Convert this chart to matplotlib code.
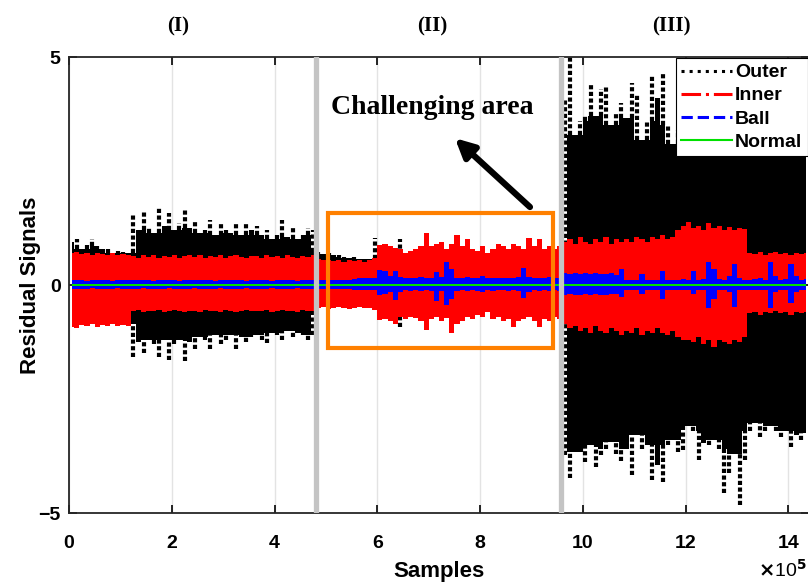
import numpy as np
import matplotlib
matplotlib.use("Agg")
import matplotlib.pyplot as plt
from matplotlib.lines import Line2D
from matplotlib.patches import Rectangle

# ---------------- data (envelopes, units: 1e5 samples) ----------------
# window centres every 0.1e5 samples: 0.05 ... 14.35
sample_centres = np.arange(0.05, 14.4, 0.1)

outer_hi = [
    0.95, 1.0, 0.8, 0.88, 1.0, 0.85, 0.78, 0.8, 0.7, 0.75, 0.72, 0.7,
    1.58, 1.2, 1.64, 1.25, 1.15, 1.69, 1.3, 1.58, 1.2, 1.35, 1.64, 1.25,
    1.38, 1.15, 1.2, 1.43, 1.1, 1.36, 1.2, 1.15, 1.33, 1.1, 1.38, 1.2,
    1.29, 1.1, 1.2, 1.0, 1.1, 1.43, 1.05, 1.3, 1.0, 1.1, 1.25, 1.2,
    0.72, 0.68, 0.7, 0.65, 0.66, 0.62, 0.6, 0.62, 0.58, 0.56, 0.58, 1.03,
    0.6, 0.5, 0.55, 0.5, 1.0, 0.5, 0.55, 0.5, 0.6, 0.5, 0.5, 0.55,
    0.5, 0.55, 0.5, 0.6, 0.5, 0.55, 0.5, 0.5, 0.55, 0.5, 0.6, 0.5,
    0.5, 0.55, 0.5, 0.5, 0.6, 0.5, 0.55, 0.5, 0.5, 0.55, 0.5, 0.6,
    4.06, 5.0, 3.3, 3.6, 3.7, 4.4, 3.7, 4.3, 4.35, 3.5, 3.77, 4.0,
    3.66, 4.43, 4.17, 3.18, 3.6, 4.6, 4.1, 4.67, 3.5, 3.1, 3.4, 3.6,
    3.5, 3.8, 3.3, 3.6, 3.9, 3.4, 3.7, 3.2, 3.5, 3.8, 3.3, 3.6,
    3.2, 3.5, 3.0, 3.4, 3.7, 3.3, 3.6, 3.1, 3.5, 4.0, 3.4, 3.6,
]
outer_lo = [
    -0.85, -0.86, -0.84, -0.85, -0.86, -0.85, -0.84, -0.85, -0.86, -0.85, -0.84, -0.85,
    -1.58, -1.25, -1.5, -1.2, -1.3, -1.58, -1.2, -1.64, -1.3, -1.2, -1.66, -1.25,
    -1.4, -1.15, -1.2, -1.4, -1.1, -1.3, -1.2, -1.1, -1.4, -1.15, -1.25, -1.14,
    -1.1, -1.2, -1.27, -1.05, -1.1, -1.2, -1.0, -1.14, -1.05, -1.1, -1.2, -1.1,
    -0.4, -0.42, -0.4, -0.41, -0.4, -0.42, -0.4, -0.41, -0.4, -0.42, -0.4, -0.45,
    -0.4, -0.41, -0.4, -0.42, -0.92, -0.4, -0.41, -0.4, -0.42, -0.4, -0.41, -0.4,
    -0.4, -0.41, -0.4, -0.42, -0.4, -0.41, -0.4, -0.42, -0.4, -0.41, -0.4, -0.42,
    -0.4, -0.41, -0.4, -0.42, -0.4, -0.41, -0.4, -0.42, -0.4, -0.41, -0.4, -0.42,
    -3.73, -4.23, -3.66, -3.66, -3.88, -3.5, -3.99, -3.73, -3.6, -3.44, -3.7, -3.85,
    -3.6, -4.17, -3.3, -3.6, -3.5, -4.28, -3.95, -4.32, -3.5, -3.4, -3.66, -3.62,
    -3.1, -3.2, -3.84, -3.47, -3.5, -3.4, -3.6, -4.56, -4.12, -3.7, -4.82, -3.84,
    -3.2, -3.03, -3.33, -3.2, -3.1, -3.2, -3.33, -3.2, -3.55, -3.3, -3.4, -3.25,
]
inner_hi = [
    0.7, 0.72, 0.68, 0.7, 0.65, 0.7, 0.68, 0.66, 0.7, 0.65, 0.68, 0.66,
    0.64, 0.6, 0.66, 0.62, 0.65, 0.6, 0.64, 0.62, 0.66, 0.6, 0.63, 0.65,
    0.62, 0.66, 0.6, 0.64, 0.62, 0.65, 0.6, 0.63, 0.66, 0.62, 0.6, 0.64,
    0.63, 0.6, 0.65, 0.62, 0.64, 0.6, 0.66, 0.62, 0.6, 0.64, 0.62, 0.65,
    0.56, 0.55, 0.54, 0.52, 0.55, 0.5, 0.55, 0.52, 0.54, 0.5, 0.55, 0.6,
    0.88, 0.9, 0.85, 0.82, 0.78, 0.7, 0.75, 0.8, 0.85, 1.14, 0.85, 0.9,
    0.95, 0.8, 0.9, 1.1, 0.85, 1.0, 0.8, 0.75, 0.85, 0.7, 0.8, 0.9,
    0.85, 0.8, 0.9, 0.85, 0.8, 1.03, 0.85, 1.0, 0.8, 0.85, 0.8, 0.85,
    0.95, 1.0, 0.9, 1.05, 0.95, 0.9, 1.0, 0.95, 1.05, 0.9, 1.0, 0.95,
    1.0, 0.95, 1.05, 1.0, 0.95, 1.05, 1.0, 1.1, 1.0, 1.05, 1.2, 1.3,
    1.38, 1.25, 1.3, 1.2, 1.35, 1.25, 1.3, 1.2, 1.28, 1.2, 1.25, 1.22,
    0.7, 0.68, 0.72, 0.65, 0.7, 0.72, 0.68, 0.7, 0.65, 0.7, 0.68, 0.7,
]
inner_lo = [
    -0.92, -0.95, -0.88, -0.9, -0.85, -0.92, -0.88, -0.9, -0.85, -0.9, -0.88, -0.9,
    -0.58, -0.55, -0.6, -0.56, -0.58, -0.55, -0.6, -0.57, -0.55, -0.58, -0.6, -0.56,
    -0.57, -0.6, -0.55, -0.58, -0.56, -0.6, -0.55, -0.58, -0.6, -0.56, -0.55, -0.58,
    -0.56, -0.58, -0.55, -0.6, -0.57, -0.55, -0.58, -0.56, -0.6, -0.55, -0.58, -0.57,
    -0.5, -0.48, -0.52, -0.5, -0.48, -0.5, -0.52, -0.5, -0.48, -0.5, -0.5, -0.55,
    -0.77, -0.75, -0.8, -0.85, -0.7, -0.75, -0.7, -0.72, -0.8, -0.99, -0.75, -0.7,
    -0.8, -0.72, -1.05, -0.85, -0.8, -0.7, -0.75, -0.65, -0.7, -0.6, -0.75, -0.7,
    -0.8, -0.75, -0.92, -0.8, -0.75, -0.7, -0.8, -0.92, -0.75, -0.8, -0.7, -0.75,
    -0.85, -0.95, -0.9, -1.0, -0.95, -1.05, -0.9, -1.0, -1.05, -0.95, -1.0, -1.1,
    -1.0, -1.05, -0.95, -1.1, -1.0, -1.05, -0.95, -1.05, -1.1, -1.0, -1.15, -1.2,
    -1.2, -1.25, -1.15, -1.3, -1.2, -1.36, -1.2, -1.25, -1.3, -1.2, -1.25, -1.15,
    -0.62, -0.6, -0.65, -0.6, -0.62, -0.58, -0.62, -0.6, -0.65, -0.6, -0.62, -0.6,
]
ball_hi = [
    0.1, 0.11, 0.1, 0.09, 0.1, 0.11, 0.1, 0.1, 0.09, 0.1, 0.11, 0.1,
    0.1, 0.11, 0.1, 0.1, 0.09, 0.1, 0.11, 0.1, 0.1, 0.09, 0.1, 0.11,
    0.1, 0.1, 0.11, 0.1, 0.09, 0.1, 0.1, 0.11, 0.1, 0.1, 0.09, 0.1,
    0.11, 0.1, 0.1, 0.09, 0.1, 0.11, 0.1, 0.1, 0.09, 0.1, 0.11, 0.1,
    0.1, 0.1, 0.1, 0.1, 0.1, 0.1, 0.12, 0.14, 0.15, 0.15, 0.15, 0.16,
    0.33, 0.3, 0.2, 0.3, 0.18, 0.15, 0.16, 0.15, 0.17, 0.15, 0.16, 0.28,
    0.18, 0.5, 0.35, 0.16, 0.15, 0.17, 0.15, 0.16, 0.2, 0.15, 0.16, 0.15,
    0.15, 0.16, 0.15, 0.17, 0.37, 0.18, 0.15, 0.16, 0.15, 0.17, 0.15, 0.16,
    0.26, 0.25, 0.26, 0.24, 0.26, 0.25, 0.26, 0.25, 0.24, 0.26, 0.22, 0.35,
    0.12, 0.11, 0.12, 0.25, 0.12, 0.11, 0.12, 0.3, 0.12, 0.11, 0.12, 0.13,
    0.12, 0.3, 0.12, 0.13, 0.5, 0.35, 0.13, 0.12, 0.2, 0.45, 0.15, 0.12,
    0.12, 0.13, 0.15, 0.12, 0.5, 0.2, 0.12, 0.13, 0.47, 0.2, 0.12, 0.13,
]
ball_lo = [
    -0.08, -0.09, -0.08, -0.08, -0.07, -0.08, -0.09, -0.08, -0.08, -0.07, -0.08, -0.09,
    -0.08, -0.08, -0.07, -0.08, -0.09, -0.08, -0.08, -0.07, -0.08, -0.09, -0.08, -0.08,
    -0.07, -0.08, -0.09, -0.08, -0.08, -0.07, -0.08, -0.09, -0.08, -0.08, -0.07, -0.08,
    -0.09, -0.08, -0.08, -0.07, -0.08, -0.09, -0.08, -0.08, -0.07, -0.08, -0.09, -0.08,
    -0.08, -0.08, -0.08, -0.08, -0.08, -0.08, -0.09, -0.1, -0.1, -0.1, -0.1, -0.1,
    -0.22, -0.2, -0.15, -0.33, -0.15, -0.12, -0.13, -0.12, -0.14, -0.12, -0.13, -0.35,
    -0.14, -0.44, -0.3, -0.13, -0.12, -0.14, -0.12, -0.13, -0.16, -0.12, -0.13, -0.12,
    -0.12, -0.13, -0.12, -0.14, -0.28, -0.15, -0.12, -0.13, -0.12, -0.14, -0.12, -0.13,
    -0.22, -0.2, -0.22, -0.21, -0.2, -0.22, -0.2, -0.21, -0.22, -0.2, -0.2, -0.26,
    -0.1, -0.1, -0.1, -0.2, -0.1, -0.1, -0.1, -0.3, -0.1, -0.1, -0.1, -0.1,
    -0.1, -0.2, -0.1, -0.1, -0.5, -0.3, -0.1, -0.1, -0.15, -0.48, -0.12, -0.1,
    -0.1, -0.1, -0.12, -0.1, -0.5, -0.15, -0.1, -0.1, -0.4, -0.15, -0.1, -0.1,
]
normal_amp = [
    0.03, 0.03, 0.03, 0.03, 0.03, 0.03, 0.03, 0.03, 0.03, 0.03, 0.03, 0.03,
    0.03, 0.03, 0.03, 0.03, 0.03, 0.03, 0.03, 0.03, 0.03, 0.03, 0.03, 0.03,
    0.03, 0.03, 0.03, 0.03, 0.03, 0.03, 0.03, 0.03, 0.03, 0.03, 0.03, 0.03,
    0.03, 0.03, 0.03, 0.03, 0.03, 0.03, 0.03, 0.03, 0.03, 0.03, 0.03, 0.03,
    0.03, 0.03, 0.03, 0.03, 0.03, 0.03, 0.03, 0.03, 0.03, 0.03, 0.03, 0.03,
    0.03, 0.03, 0.03, 0.03, 0.03, 0.03, 0.03, 0.03, 0.03, 0.03, 0.03, 0.03,
    0.03, 0.03, 0.03, 0.03, 0.03, 0.03, 0.03, 0.03, 0.03, 0.03, 0.03, 0.03,
    0.03, 0.03, 0.03, 0.03, 0.03, 0.03, 0.03, 0.03, 0.03, 0.03, 0.03, 0.03,
    0.03, 0.03, 0.03, 0.03, 0.03, 0.03, 0.03, 0.03, 0.03, 0.03, 0.03, 0.03,
    0.03, 0.03, 0.03, 0.03, 0.03, 0.03, 0.03, 0.03, 0.03, 0.03, 0.03, 0.03,
    0.03, 0.03, 0.03, 0.03, 0.03, 0.03, 0.03, 0.03, 0.03, 0.03, 0.03, 0.03,
    0.03, 0.03, 0.03, 0.03, 0.03, 0.03, 0.03, 0.03, 0.03, 0.03, 0.03, 0.03,
]

series_names = ["Outer", "Inner", "Ball", "Normal"]
region_labels = ["(I)", "(II)", "(III)"]
region_label_x = [2.12, 7.06, 11.73]          # 1e5 samples
region_bounds = [4.8, 9.57]                   # 1e5 samples
xtick_vals = [0, 2, 4, 6, 8, 10, 12, 14]
ytick_vals = [-5, 0, 5]
challenge_box = (5.04, -1.38, 9.42, 1.58)     # x0, y0, x1, y1
arrow_tail = (8.97, 1.71)
arrow_head = (7.51, 3.22)

# ---------------- figure ----------------
plt.rcParams['font.family'] = ['Liberation Sans', 'DejaVu Sans']
plt.rcParams['font.weight'] = 'bold'

fig = plt.figure(figsize=(8.08, 5.83), dpi=100)
ax = fig.add_axes([69 / 808, 70 / 583, 740 / 808, 456 / 583])

S = 1e5
x = sample_centres * S
nrm = np.array(normal_amp)

# outer: dense core filled, excursions above it drawn as dotted strokes
o_hi = np.array(outer_hi)
o_lo = np.array(outer_lo)
ph = np.pad(o_hi, 1, mode='edge')
pl = np.pad(o_lo, 1, mode='edge')
core_hi = np.minimum(np.minimum(ph[:-2], ph[1:-1]), ph[2:])
core_lo = np.maximum(np.maximum(pl[:-2], pl[1:-1]), pl[2:])
ax.fill_between(x, core_lo, core_hi, step='mid', color='black', lw=0, zorder=2)
ax.vlines(x, core_hi, o_hi, colors='black', linestyles=(0, (1.0, 0.6)), lw=3.0, zorder=2)
ax.vlines(x, o_lo, core_lo, colors='black', linestyles=(0, (1.0, 0.6)), lw=3.0, zorder=2)

ax.fill_between(x, inner_lo, inner_hi, step='mid', color='#ff0000', lw=0, zorder=3)
ax.fill_between(x, ball_lo, ball_hi, step='mid', color='#0000ff', lw=0, zorder=4)
ax.fill_between(x, -nrm, nrm, step='mid', color='#00e000', lw=0, zorder=5)

# region separators
for b in region_bounds:
    ax.axvline(b * S, color='#c4c4c4', lw=3.8, zorder=6)

# challenging-area box and arrow
bx0, by0, bx1, by1 = challenge_box
ax.add_patch(Rectangle((bx0 * S, by0), (bx1 - bx0) * S, by1 - by0, fill=False,
                       edgecolor='#ff8000', lw=3.0, zorder=7))
ax.annotate('', xy=(arrow_head[0] * S, arrow_head[1]),
            xytext=(arrow_tail[0] * S, arrow_tail[1]),
            arrowprops=dict(arrowstyle='-|>', color='black', lw=4.5,
                            mutation_scale=28, shrinkA=0, shrinkB=0), zorder=8)
ax.text(7.06 * S, 3.9, 'Challenging area', ha='center', va='center',
        fontsize=20, fontweight='bold', family=['Liberation Serif', 'DejaVu Serif'], zorder=8)

for lab, lx in zip(region_labels, region_label_x):
    ax.text(lx * S, 5.66, lab, ha='center', va='center', fontsize=15,
            fontweight='bold', family=['Liberation Serif', 'DejaVu Serif'], clip_on=False)

# axes styling
ax.set_xlim(0, 14.4 * S)
ax.set_ylim(-5, 5)
ax.set_xticks([v * S for v in xtick_vals])
ax.set_xticklabels([str(v) for v in xtick_vals])
ax.set_yticks(ytick_vals)
ax.set_yticklabels(['\u22125', '0', '5'])
ax.tick_params(direction='in', top=True, right=True, length=6, width=1.2,
               labelsize=14)
ax.tick_params(axis='x', pad=16)
ax.tick_params(axis='y', pad=6)
for lab in ax.get_xticklabels() + ax.get_yticklabels():
    lab.set_fontweight('bold')
ax.grid(axis='x', color='#e3e3e3', lw=1.0, zorder=0)
ax.set_axisbelow(True)
for sp in ax.spines.values():
    sp.set_linewidth(1.3)
    sp.set_color('#262626')

ax.set_xlabel('Samples', fontsize=16, fontweight='bold', labelpad=6)
ax.set_ylabel('Residual Signals', fontsize=16, fontweight='bold', labelpad=-2)
fig.text(0.999, 0.004, r'$\times$10$^{5}$', ha='right', va='bottom', fontsize=14,
         fontweight='normal')

handles = [
    Line2D([], [], color='black', ls=':', lw=2.2),
    Line2D([], [], color='#ff0000', ls='-.', lw=2.2),
    Line2D([], [], color='#0000ff', ls='--', lw=2.2),
    Line2D([], [], color='#00e000', ls='-', lw=1.5),
]
leg = ax.legend(handles, series_names, loc='upper right', bbox_to_anchor=(1.0, 1.0),
                borderaxespad=0.05, frameon=True, fancybox=False, framealpha=1.0,
                handlelength=2.6, handletextpad=0.15, labelspacing=0.28,
                borderpad=0.3, prop={'weight': 'bold', 'size': 14})
leg.get_frame().set_edgecolor('black')
leg.get_frame().set_linewidth(0.8)
leg.set_zorder(20)

fig.savefig('out.png', dpi=100)
